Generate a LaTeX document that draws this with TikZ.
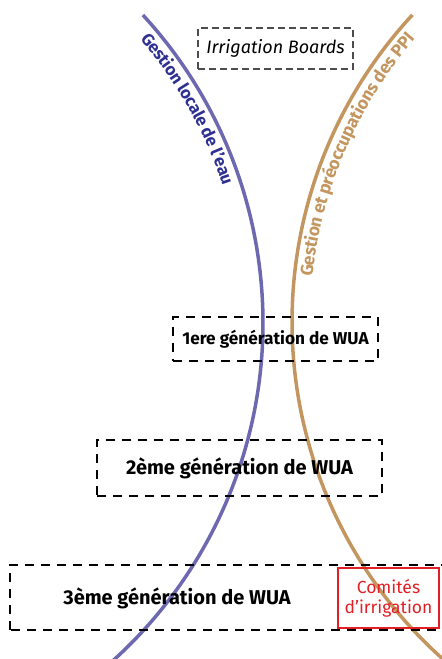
\documentclass[tikz,border=0pt]{standalone}
\usepackage{fontspec}
\setmainfont{Fira Sans}
\usetikzlibrary{decorations.text}
\definecolor{eaublue}{HTML}{6D69B1}
\definecolor{eaunavy}{HTML}{2E3192}
\definecolor{ppibrown}{HTML}{C4965F}
\definecolor{comred}{HTML}{E31E24}

\begin{document}
\begin{tikzpicture}[x=1pt,y=1pt,
  curve/.style={line width=3.5pt},
  boardbox/.style={draw=black!70, dash pattern=on 7pt off 4pt, line width=1.2pt,
    minimum width=155pt, minimum height=41pt, font=\fontsize{18}{20}\selectfont\itshape},
  wuabox/.style={draw=black, line width=2.5pt, dash pattern=on 9pt off 7pt},
  wualabel/.style={font=\fontsize{20}{22}\selectfont\bfseries}]
  \useasboundingbox (0,0) rectangle (442,659);
  \clip (0,0) rectangle (442,659);

  % the two arcs
  \draw[curve, eaublue] (-192,336) ++(42.6:455) arc[start angle=42.6, end angle=-52, radius=455pt];
  \draw[curve, ppibrown] (744,337) ++(137.2:452) arc[start angle=137.2, end angle=232, radius=452pt];

  \path[decorate, decoration={text along path, text color=eaunavy, raise=-18pt,
    text={|\fontsize{17}{19}\selectfont\bfseries|Gestion locale de l’eau}}]
    (-192,336) ++(40.5:455) arc[start angle=40.5, end angle=5, radius=455pt];
  \path[decorate, decoration={text along path, text color=ppibrown, raise=-18pt,
    text={|\fontsize{17.5}{19}\selectfont\bfseries|Gestion et préoccupations des PPI}}]
    (744,337) ++(174:452) arc[start angle=174, end angle=125, radius=452pt];

  \node[boardbox] (boards) at (275.5,610.5) {Irrigation Boards};
  \node[wuabox, minimum width=205pt, minimum height=44pt,
    font=\fontsize{17.2}{19}\selectfont\bfseries] (gen1) at (275.5,320) {1ere génération de WUA};
  \node[wuabox, minimum width=285pt, minimum height=56pt, wualabel] (gen2) at (239.5,191) {2ème génération de WUA};
  \draw[wuabox] (10,29) rectangle (470,94);
  \node[wualabel] (gen3) at (177,61) {3ème génération de WUA};
  \node[draw=comred, line width=2pt, text=comred, minimum width=101pt, minimum height=60pt,
    align=center, font=\fontsize{17.5}{20}\selectfont] (comites) at (388.5,61) {Comités\\d’irrigation};
\end{tikzpicture}
\end{document}
